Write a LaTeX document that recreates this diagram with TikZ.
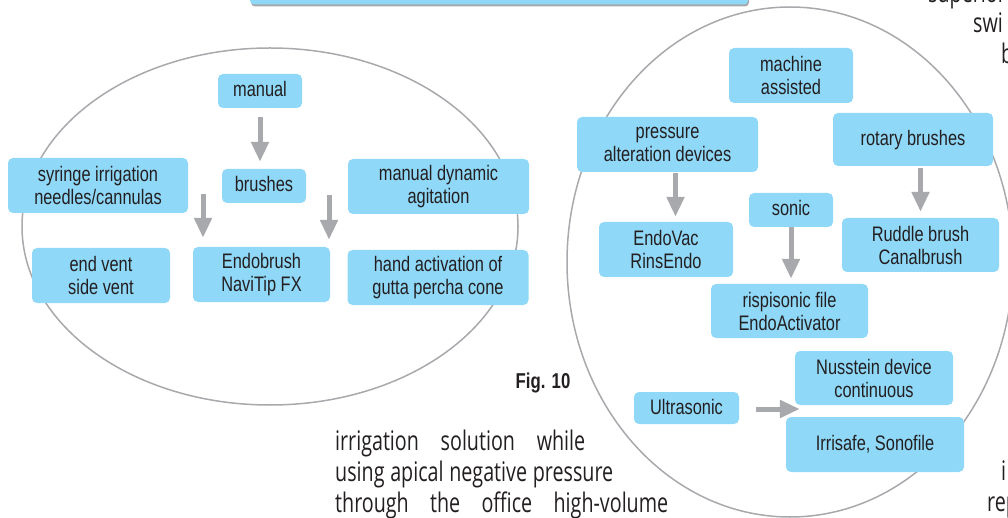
\documentclass[tikz,border=0pt]{standalone}
\usepackage{fontspec}
\setmainfont{Liberation Sans}[FakeStretch=0.78]
\newfontfamily\bodyfont{Open Sans}[FakeStretch=0.73]
\usetikzlibrary{arrows.meta}
\definecolor{boxblue}{RGB}{143,216,248}
\definecolor{arrgray}{RGB}{167,169,172}
\definecolor{inkdark}{RGB}{35,31,32}

\begin{document}
\begin{tikzpicture}[x=1pt,y=-1pt,
	box/.style={fill=boxblue,rounded corners=5pt,align=center,inner sep=2pt,text=inkdark,font=\fontsize{21}{23}\selectfont},
	one/.style={box,minimum height=34pt,text height=15pt,text depth=3pt},
	two/.style={box,minimum height=55pt},
	arr/.style={arrgray,line width=5pt,-{Triangle[width=17pt,length=20pt]}},
	ring/.style={arrgray,line width=1.5pt},
	page/.style={text=inkdark,font=\bodyfont\fontsize{27}{31}\selectfont,anchor=base west,inner sep=0pt}]
	\useasboundingbox (0,0) rectangle (1008,518);
	\clip (0,0) rectangle (1008,518);
	% bar at the top of the page
	\fill[arrgray,rounded corners=4pt] (251,-10) rectangle (749,6.5);
	\fill[boxblue,rounded corners=4pt] (250,-10) rectangle (748,4.5);
	% the two groups
	\draw[ring] (270,226.5) ellipse (248pt and 178.5pt);
	\draw[ring] (790,262) ellipse (223pt and 255pt);
	% manual
	\node[one,minimum width=84pt] (manual) at (260,91) {manual};
	\node[one,minimum width=84pt] (brushes) at (264,186) {brushes};
	\node[two,minimum width=180pt] (syringe) at (98,185.5) {syringe irrigation\\needles/cannulas};
	\node[two,minimum width=181pt] (agit) at (438.5,186.5) {manual dynamic\\agitation};
	\node[two,minimum width=138pt] (vent) at (101,275.5) {end vent\\side vent};
	\node[two,minimum width=137pt] (endo) at (261.5,274.5) {Endobrush\\NaviTip FX};
	\node[two,minimum width=181pt] (gutta) at (438,277.5) {hand activation of\\gutta percha cone};
	% machine assisted
	\node[two,minimum width=124pt] (machine) at (791,75.5) {machine\\assisted};
	\node[two,minimum width=181pt] (press) at (667.5,144.5) {pressure\\alteration devices};
	\node[one,minimum width=160pt,minimum height=53pt] (rotary) at (913,139.5) {rotary brushes};
	\node[two,minimum width=134pt] (vac) at (666,249.5) {EndoVac\\RinsEndo};
	\node[one,minimum width=84pt] (sonic) at (791,210) {sonic};
	\node[two,minimum width=157pt,minimum height=54pt] (ruddle) at (920.5,245) {Ruddle brush\\Canalbrush};
	\node[two,minimum width=157pt,minimum height=54pt] (risp) at (789.5,311) {rispisonic file\\EndoActivator};
	\node[two,minimum width=158pt,minimum height=54pt] (nuss) at (874,378) {Nusstein device\\continuous};
	\node[one,minimum width=105pt,minimum height=32pt] (ultra) at (686.5,408) {Ultrasonic};
	\node[one,minimum width=178pt,minimum height=55pt] (irri) at (875,444.5) {Irrisafe, Sonofile};
	% arrows
	\coordinate (sl) at (203,194);
	\coordinate (sr) at (329,195);
	\draw[arr,shorten <=9pt,shorten >=7pt] (manual.south) -- (manual.south |- brushes.north);
	\draw[arr,shorten >=9pt] (sl) -- (sl |- endo.north);
	\draw[arr,shorten >=7pt] (sr) -- (sr |- endo.north);
	\draw[arr,shorten <=1pt,shorten >=5pt] ([xshift=8pt]press.south) -- ([xshift=8pt]press.south |- vac.north);
	\draw[arr,shorten <=2pt,shorten >=6pt] (ruddle.north |- rotary.south) -- (ruddle.north);
	\draw[arr,shorten >=5pt] (sonic.south) -- (sonic.south |- risp.north);
	\draw[arr,shorten <=17pt,shorten >=-5pt] ([yshift=-1pt]ultra.east) -- ([yshift=-1pt]ultra.east -| nuss.west);
	% caption and page text
	\node[text=inkdark,font=\bfseries\fontsize{21.5}{23}\selectfont,anchor=base,inner sep=0pt] (fig) at (543,388) {Fig. 10};
	\node[page] (p1) at (335,450) {\makebox[250pt][s]{irrigation solution while}};
	\node[page] (p2) at (335,481) {\makebox[278pt][s]{using apical negative pressure}};
	\node[page] (p3) at (335,512) {\makebox[333pt][s]{through the office high-volume}};
	\node[page] (q1) at (928,3) {superior};
	\node[page] (q2) at (973,33) {swi};
	\node[page] (q3) at (1001,64) {b};
	\node[page] (q4) at (1001,480) {i};
	\node[page] (q5) at (987,511) {rep};
\end{tikzpicture}
\end{document}
